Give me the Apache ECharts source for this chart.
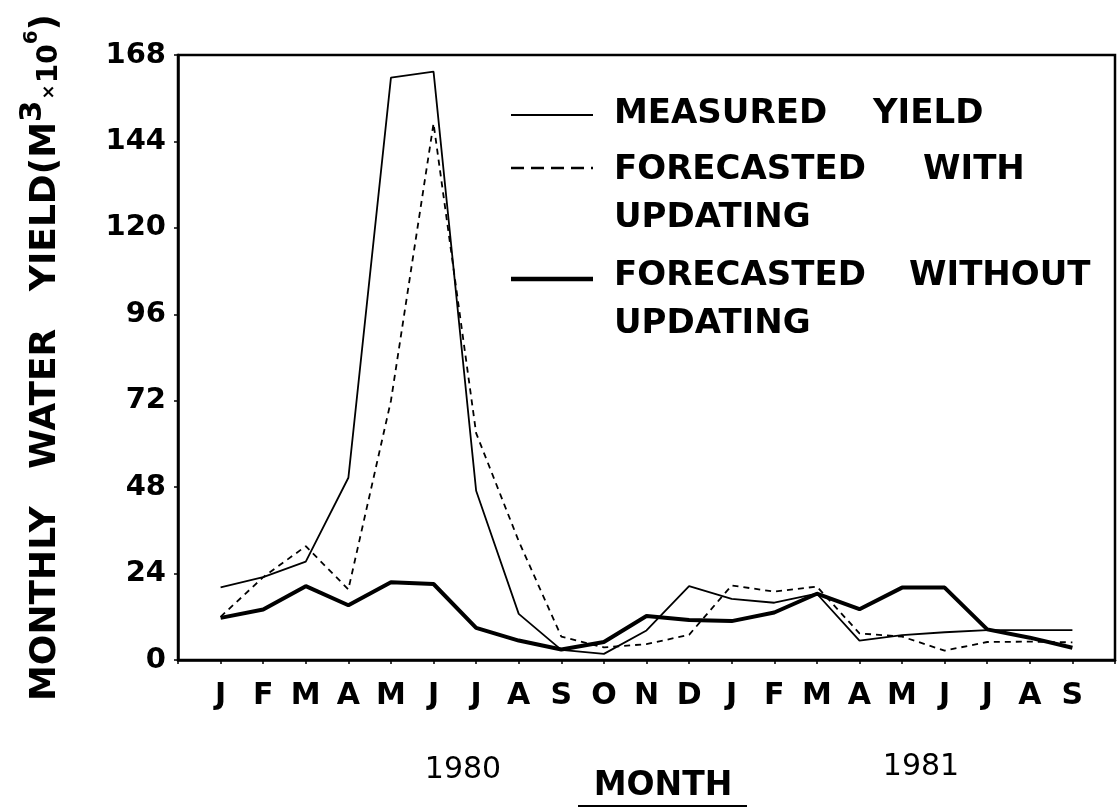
<!DOCTYPE html>
<html><head><meta charset="utf-8">
<script src="https://cdn.jsdelivr.net/npm/echarts@6/dist/echarts.min.js"></script>
<style>html,body{margin:0;padding:0;background:#fff}#c{width:1118px;height:808px}</style>
</head><body><div id="c"></div>
<script>
// Month labels (Jan 1980 .. Sep 1981)
const months = ['J','F','M','A','M','J','J','A','S','O','N','D','J','F','M','A','M','J','J','A','S'];
const years = ['1980', '1981'];
const yMin = 0, yMax = 168, yStep = 24;
// Monthly water yield (M^3 x 10^6)
const measured        = [20.2, 23.0, 27.3, 50.6, 161.7, 163.4, 47.0, 12.8, 2.8, 1.7, 8.2, 20.5, 17.0, 15.9, 18.4, 5.4, 6.9, 7.7, 8.3, 8.3, 8.3];
const withUpdating    = [12.0, 23.0, 31.6, 19.6, 72.0, 149.0, 63.0, 33.0, 6.5, 3.5, 4.4, 7.0, 20.7, 19.0, 20.4, 7.4, 6.5, 2.6, 5.0, 5.1, 4.9];
const withoutUpdating = [11.7, 14.0, 20.5, 15.2, 21.6, 21.1, 8.9, 5.4, 2.9, 5.0, 12.2, 11.1, 10.8, 13.2, 18.4, 14.1, 20.1, 20.1, 8.5, 6.2, 3.4];
const seriesNames = ['MEASURED YIELD', 'FORECASTED WITH UPDATING', 'FORECASTED WITHOUT UPDATING'];

const FONT = '"DejaVu Sans", sans-serif';
const toPts = arr => arr.map((v, i) => [i, v]);

const chart = echarts.init(document.getElementById('c'), null, {renderer: 'canvas'});

const legendFont = 'bold 34px ' + FONT;
const legendWords = [
  {t: 'MEASURED', x: 614, y: 114}, {t: 'YIELD', x: 873, y: 114},
  {t: 'FORECASTED', x: 614, y: 170}, {t: 'WITH', x: 923, y: 170},
  {t: 'UPDATING', x: 614, y: 218},
  {t: 'FORECASTED', x: 614, y: 276}, {t: 'WITHOUT', x: 909, y: 276},
  {t: 'UPDATING', x: 614, y: 324}
];

const graphics = [
  {type: 'line', shape: {x1: 511, y1: 115, x2: 593, y2: 115}, style: {stroke: '#000', lineWidth: 2}},
  {type: 'line', shape: {x1: 511, y1: 168, x2: 593, y2: 168}, style: {stroke: '#000', lineWidth: 2.5, lineDash: [13, 7]}},
  {type: 'line', shape: {x1: 511, y1: 279, x2: 593, y2: 279}, style: {stroke: '#000', lineWidth: 4.5}},
  ...legendWords.map(w => ({type: 'text', x: w.x, y: w.y, style: {text: w.t, font: legendFont, fill: '#000', verticalAlign: 'middle', align: 'left'}})),
  {type: 'text', x: 463, y: 770, style: {text: years[0], font: '30px ' + FONT, fill: '#000', align: 'center', verticalAlign: 'middle'}},
  {type: 'text', x: 921, y: 767, style: {text: years[1], font: '30px ' + FONT, fill: '#000', align: 'center', verticalAlign: 'middle'}},
  {type: 'text', x: 663, y: 786, style: {text: 'MONTH', font: 'bold 33px ' + FONT, fill: '#000', align: 'center', verticalAlign: 'middle'}},
  {type: 'line', shape: {x1: 578, y1: 806, x2: 747, y2: 806}, style: {stroke: '#000', lineWidth: 2}}
];

chart.setOption({
  animation: false,
  backgroundColor: '#fff',
  grid: {left: 178, right: 1, top: 55, bottom: 148, show: true, borderColor: '#000', borderWidth: 2.5, containLabel: false},
  xAxis: {
    type: 'value', min: -1, max: 21, interval: 1,
    axisLine: {onZero: false, lineStyle: {color: '#000', width: 2.5}},
    axisTick: {show: true, length: 4, lineStyle: {color: '#000', width: 1.5}},
    splitLine: {show: false},
    axisLabel: {
      color: '#000', fontFamily: FONT, fontWeight: 'bold', fontSize: 30, margin: 21,
      formatter: v => (v >= 0 && v < months.length ? months[v] : '')
    }
  },
  yAxis: {
    type: 'value', min: yMin, max: yMax, interval: yStep,
    axisLine: {show: true, onZero: false, lineStyle: {color: '#000', width: 2.5}},
    axisTick: {show: true, length: 4, lineStyle: {color: '#000', width: 1.5}},
    splitLine: {show: false},
    axisLabel: {color: '#000', fontFamily: FONT, fontWeight: 'bold', fontSize: 29, margin: 12},
    name: '{a|MONTHLY   WATER   YIELD(M}{s|3}{x|×}{t|10}{u|6}{a|)}',
    nameLocation: 'middle', nameRotate: 90, nameGap: 114,
    nameTextStyle: {
      color: '#000',
      rich: {
        a: {fontFamily: FONT, fontWeight: 'bold', fontSize: 36, color: '#000', verticalAlign: 'bottom'},
        s: {fontFamily: FONT, fontWeight: 'bold', fontSize: 31, color: '#000', verticalAlign: 'bottom', padding: [0, 0, 16, 0]},
        x: {fontFamily: FONT, fontWeight: 'bold', fontSize: 18, color: '#000', verticalAlign: 'bottom', padding: [0, 1, 6, 1]},
        t: {fontFamily: FONT, fontWeight: 'bold', fontSize: 28, color: '#000', verticalAlign: 'bottom'},
        u: {fontFamily: FONT, fontWeight: 'bold', fontSize: 20, color: '#000', verticalAlign: 'bottom', padding: [0, 0, 22, 0]}
      }
    }
  },
  series: [
    {name: seriesNames[0], type: 'line', data: toPts(measured), symbol: 'none', lineStyle: {color: '#000', width: 1.8}},
    {name: seriesNames[1], type: 'line', data: toPts(withUpdating), symbol: 'none', lineStyle: {color: '#000', width: 1.8, type: [6, 5]}},
    {name: seriesNames[2], type: 'line', data: toPts(withoutUpdating), symbol: 'none', lineStyle: {color: '#000', width: 4}}
  ],
  graphic: graphics
});
</script>
</body></html>
